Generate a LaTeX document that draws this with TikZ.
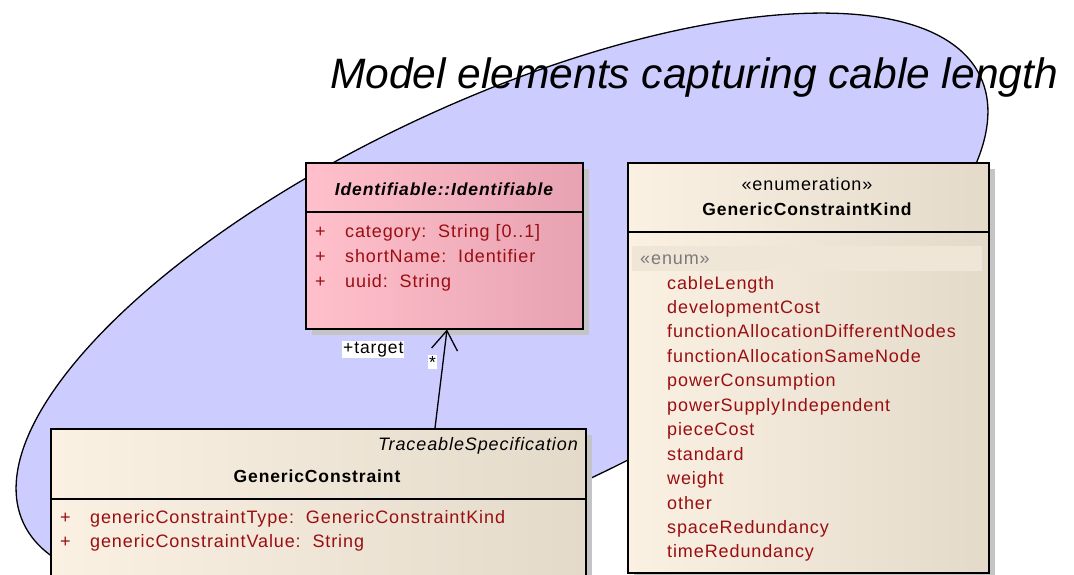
\documentclass[tikz,border=0pt]{standalone}
\usepackage{fontspec}
\setmainfont{Liberation Sans}
\newfontfamily\eafont[LetterSpace=5]{Liberation Sans}
\usetikzlibrary{shadows,arrows.meta,calc}
\definecolor{ellfill}{HTML}{CCCCFF}
\definecolor{attr}{HTML}{9A0E12}
\definecolor{creamL}{HTML}{FBF1E3}
\definecolor{creamR}{HTML}{E4DACA}
\definecolor{pinkL}{HTML}{FFC0CB}
\definecolor{pinkR}{HTML}{E8A2B2}
\definecolor{shadowgray}{HTML}{C4C4C4}
\definecolor{enumband}{HTML}{EFE6D8}
\definecolor{enumgray}{HTML}{7A7A7A}
\begin{document}
\begin{tikzpicture}[x=1pt,y=-1pt,
  classbox/.style={draw=black, line width=1.5pt, anchor=north west, inner sep=0pt,
    general shadow={fill=shadowgray, shadow xshift=6pt, shadow yshift=-6pt}},
  pinkbox/.style={classbox, left color=pinkL, right color=pinkR},
  creambox/.style={classbox, left color=creamL, right color=creamR},
  divider/.style={draw=black, line width=1.3pt},
  eatext/.style={inner sep=0pt, font=\eafont\fontsize{18}{21}\selectfont},
  attrtext/.style={eatext, text=attr, anchor=base west},
  headtext/.style={eatext, anchor=base},
  labeltext/.style={inner sep=1pt, fill=white, font=\eafont\fontsize{17.5}{20}\selectfont, anchor=base west},
  assoc/.style={draw=black, line width=1.3pt, -{Straight Barb[length=19pt,width=26pt,line width=1.3pt]}}
]
\useasboundingbox (0,0) rectangle (1074,574);
\fill[white] (0,0) rectangle (1074,574);

% package ellipse
\draw[fill=ellfill, line width=1.3pt, rotate around={25:(502,300)}]
  (502,300) ellipse [x radius=528pt, y radius=199pt];

% title
\node[inner sep=0pt, anchor=base west, font=\fontsize{42.5}{50}\selectfont\itshape] (title) at (330,88) {Model elements capturing cable length};

% Identifiable
\node[pinkbox, minimum width=277pt, minimum height=166pt] (ident) at (305,162) {};
\draw[divider] ($(ident.north west)+(0,-50pt)$) -- ($(ident.north east)+(0,-50pt)$);
\node[headtext, font=\eafont\fontsize{17.5}{21}\selectfont\bfseries\itshape] (identname) at (444,195) {Identifiable::Identifiable};
\node[attrtext] (ip1) at (315,237) {+};
\node[attrtext] (ia1) at (345,237) {category:\ \ String [0..1]};
\node[attrtext] (ip2) at (315,262) {+};
\node[attrtext] (ia2) at (345,262) {shortName:\ \ Identifier};
\node[attrtext] (ip3) at (315,287) {+};
\node[attrtext] (ia3) at (345,287) {uuid:\ \ String};

% Enumeration
\node[creambox, minimum width=361pt, minimum height=410pt] (enum) at (627,162) {};
\draw[divider] ($(enum.north west)+(0,-70pt)$) -- ($(enum.north east)+(0,-70pt)$);
\node[headtext] (enumst) at (807,190) {«enumeration»};
\node[headtext, font=\eafont\fontsize{17.5}{21}\selectfont\bfseries] (enumname) at (807,215) {GenericConstraintKind};
\fill[enumband] (632,246) rectangle (982,271);
\node[eatext, text=enumgray, anchor=base west] (enumtag) at (640,264) {«enum»};
\foreach \v [count=\i from 0] in {cableLength,developmentCost,functionAllocationDifferentNodes,functionAllocationSameNode,powerConsumption,powerSupplyIndependent,pieceCost,standard,weight,other,spaceRedundancy,timeRedundancy}
  \node[attrtext] (ev\i) at (667,{289+24.45*\i}) {\v};

% GenericConstraint
\node[creambox, minimum width=535pt, minimum height=200pt] (gc) at (50,428) {};
\draw[divider] ($(gc.north west)+(0,-71pt)$) -- ($(gc.north east)+(0,-71pt)$);
\node[eatext, anchor=base east, font=\eafont\fontsize{18}{21}\selectfont\itshape] (gcst) at (578,450) {TraceableSpecification};
\node[headtext, font=\eafont\fontsize{17.5}{21}\selectfont\bfseries] (gcname) at (317,482) {GenericConstraint};
\node[attrtext] (gp1) at (60,523) {+};
\node[attrtext] (ga1) at (90,523) {genericConstraintType:\ \ GenericConstraintKind};
\node[attrtext] (gp2) at (60,547) {+};
\node[attrtext] (ga2) at (90,547) {genericConstraintValue:\ \ String};

% association
\draw[assoc] ($(gc.north west)+(385pt,0)$) -- ($(ident.south west)+(142pt,0)$);
\node[labeltext] (tgt) at (342,353) {+target};
\node[labeltext] (mult) at (428,368) {*};
\end{tikzpicture}
\end{document}
